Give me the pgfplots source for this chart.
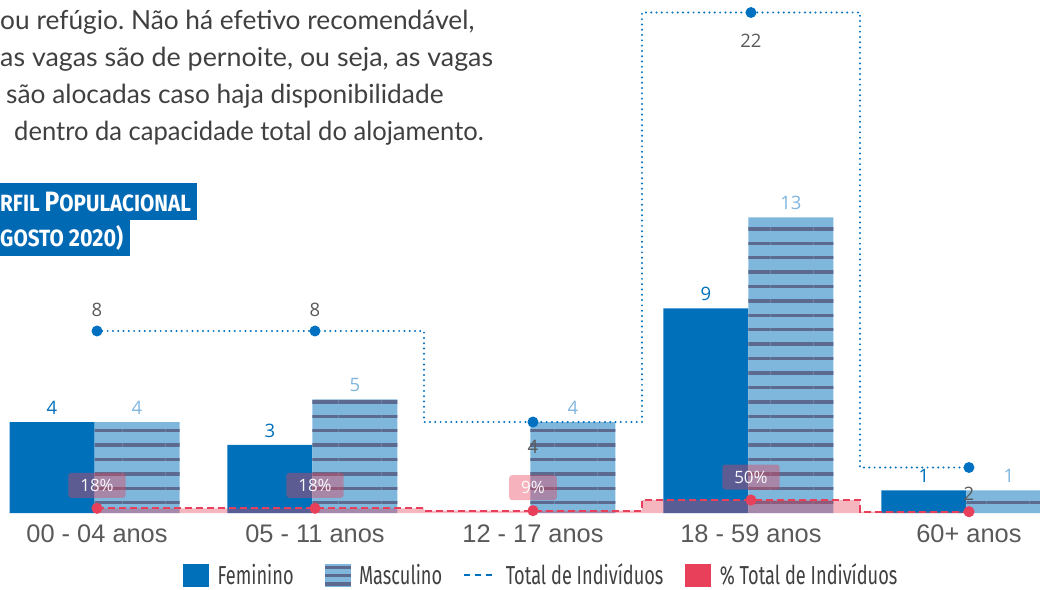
\documentclass[border=0pt]{standalone}
\usepackage{fontspec}
\setmainfont{Open Sans}
\newfontfamily\arialf{Liberation Sans}
\newfontfamily\condf[FakeStretch=0.7]{Fira Sans}
\newfontfamily\titlef[FakeStretch=0.88]{Fira Sans}
\newfontfamily\parf{Lato}
\usepackage{pgfplots}
\pgfplotsset{compat=1.18}
\usepackage{pgfplotstable}
\usetikzlibrary{patterns.meta}
\frenchspacing

\definecolor{femblue}{HTML}{0070BA}
\definecolor{mascblue}{HTML}{7EB6DC}
\definecolor{masclab}{HTML}{80B6DE}
\definecolor{stripe}{HTML}{5B6A8E}
\definecolor{totblue}{HTML}{0070C0}
\definecolor{pctred}{HTML}{E8405A}
\definecolor{tickgrey}{HTML}{595959}
\definecolor{labgrey}{HTML}{595959}
\definecolor{textgrey}{HTML}{404040}
\definecolor{titleblue}{HTML}{0069B4}

\pgfplotstableread{
x y
0 4
1 3
3 9
4 1
}\fem
\pgfplotstableread{
x y
0 4
1 5
2 4
3 13
4 1
}\masc
\pgfplotstableread{
x y s
0 8 21
1 8 21
2 4 -25
3 22 -28
4 2 -26
}\tot
\pgfplotstableread{
x p
0 18
1 18
2 9
3 50
4 5
}\pct

\begin{document}
\begin{tikzpicture}
\begin{axis}[
  scale only axis, width=1040pt, height=513pt,
  xmin=-0.445, xmax=4.326, ymin=0, ymax=22.55,
  clip=false,
  /pgf/number format/assume math mode=true,
  axis x line=bottom, axis y line=none,
  axis line style={draw=none},
  xtick={0,1,2,3,4},
  xticklabels={00 - 04 anos, 05 - 11 anos, 12 - 17 anos, 18 - 59 anos, 60+ anos},
  major tick length=0pt,
  xtick style={draw=none},
  xticklabel style={font=\arialf\fontsize{25.4}{25.4}\selectfont, text=tickgrey, anchor=base, yshift=-29pt},
  legend columns=4,
  legend style={draw=none, fill=none, at={(axis description cs:0.5205,0)}, anchor=center, yshift=-62pt,
    font=\condf\fontsize{26}{26}\selectfont, text=textgrey,
    /tikz/every odd column/.append style={column sep=7pt},
    /tikz/every even column/.append style={column sep=18pt}},
]
\coordinate (tl) at (rel axis cs:0,1);

% Feminino
\addplot[ybar, bar width=85pt, bar shift=-45pt, fill=femblue, draw=none, forget plot,
  nodes near coords,
  every node near coord/.append style={font=\fontsize{18.5}{18.5}\selectfont, text=femblue, anchor=center, xshift=-45pt, yshift=14pt}]
  table[x=x,y=y]{\fem};
% Masculino
\addplot[ybar, bar width=85pt, bar shift=40pt, fill=mascblue, draw=none, forget plot,
  postaction={pattern={Lines[angle=0,distance=14.4pt,line width=3.4pt]}, pattern color=stripe},
  nodes near coords,
  every node near coord/.append style={font=\fontsize{18.5}{18.5}\selectfont, text=masclab, anchor=center, xshift=40pt, yshift=14pt}]
  table[x=x,y=y]{\masc};
% Total
\addplot[const plot mark mid, color=totblue, line width=2.2pt, dash pattern=on 0pt off 5.3pt, line cap=round,
  mark=*, mark size=4.3pt, mark options={solid, fill=totblue, draw=none}, forget plot,
  visualization depends on={\thisrow{s}\as\ls},
  nodes near coords,
  every node near coord/.append style={font=\fontsize{18.5}{18.5}\selectfont, text=labgrey, anchor=center, yshift=\ls}]
  table[x=x,y=y]{\tot};
% % area
\addplot[const plot mark mid, fill=pctred, fill opacity=0.38, draw=none, forget plot]
  table[x=x, y expr=\thisrow{p}*0.01143]{\pct} \closedcycle;
% % line
\addplot[const plot mark mid, color=pctred, line width=2pt, dash pattern=on 7pt off 4pt,
  mark=*, mark size=4.5pt, mark options={solid, fill=pctred, draw=none}, forget plot]
  table[x=x, y expr=\thisrow{p}*0.01143]{\pct};
% % labels
\addplot[draw=none, mark=none, forget plot, restrict x to domain=0:3,
  point meta=\thisrow{p},
  nodes near coords={\pgfmathprintnumber{\pgfplotspointmeta}\%},
  every node near coord/.append style={fill=pctred, fill opacity=0.4, text opacity=0.95, text=white,
    rounded corners=3pt, anchor=center, yshift=23pt, inner xsep=12pt, minimum height=25pt,
    font=\fontsize{17}{17}\selectfont}]
  table[x=x, y expr=\thisrow{p}*0.01143]{\pct};

\addlegendimage{legend image code/.code={\fill[femblue] (0pt,-11pt) rectangle (25pt,11pt);}}
\addlegendentry{Feminino\rule{11pt}{0pt}}
\addlegendimage{legend image code/.code={\fill[mascblue] (0pt,-11pt) rectangle (25pt,11pt);
  \fill[stripe] (0pt,-10pt) rectangle (25pt,-7.5pt);
  \fill[stripe] (0pt,-1.5pt) rectangle (25pt,1pt);
  \fill[stripe] (0pt,6.5pt) rectangle (25pt,9pt);}}
\addlegendentry{Masculino}
\addlegendimage{legend image code/.code={\draw[totblue, line width=2.5pt, dash pattern=on 6pt off 5pt] (0pt,0pt) -- (32pt,0pt);}}
\addlegendentry{Total de Indivíduos\rule{2pt}{0pt}}
\addlegendimage{legend image code/.code={\fill[pctred] (0pt,-11pt) rectangle (25pt,11pt);}}
\addlegendentry{\% Total de Indivíduos}
\end{axis}

\begin{scope}[shift={(tl)}, x=1pt, y=-1pt]
  \fill[titleblue] (0,183) rectangle (197,220);
  \fill[titleblue] (0,220) rectangle (130,256);
  \node[anchor=base west, inner sep=0pt, text=white, font=\titlef\bfseries] at (0,212)
    {\fontsize{23.5}{23.5}\selectfont RFIL \fontsize{28}{28}\selectfont P\fontsize{23.5}{23.5}\selectfont OPULACIONAL};
  \node[anchor=base west, inner sep=0pt, text=white, font=\titlef\bfseries] at (0,247)
    {\fontsize{23.5}{23.5}\selectfont GOSTO \fontsize{24.5}{24.5}\selectfont 2020)};
  \begin{scope}[every node/.style={anchor=base west, inner sep=0pt, text=textgrey, font=\parf\fontsize{26.3}{26.3}\selectfont}]
    \node at (0,30) {ou refúgio. Não há efetivo recomendável,};
    \node[xscale=1.02] at (0,67) {as vagas são de pernoite, ou seja, as vagas};
    \node at (6,104) {são alocadas caso haja disponibilidade};
    \node[xscale=0.972] at (14,141) {dentro da capacidade total do alojamento.};
  \end{scope}
\end{scope}
\pgfresetboundingbox
\path[use as bounding box] (tl) rectangle ([xshift=1040pt,yshift=-589pt]tl);
\end{tikzpicture}
\end{document}
